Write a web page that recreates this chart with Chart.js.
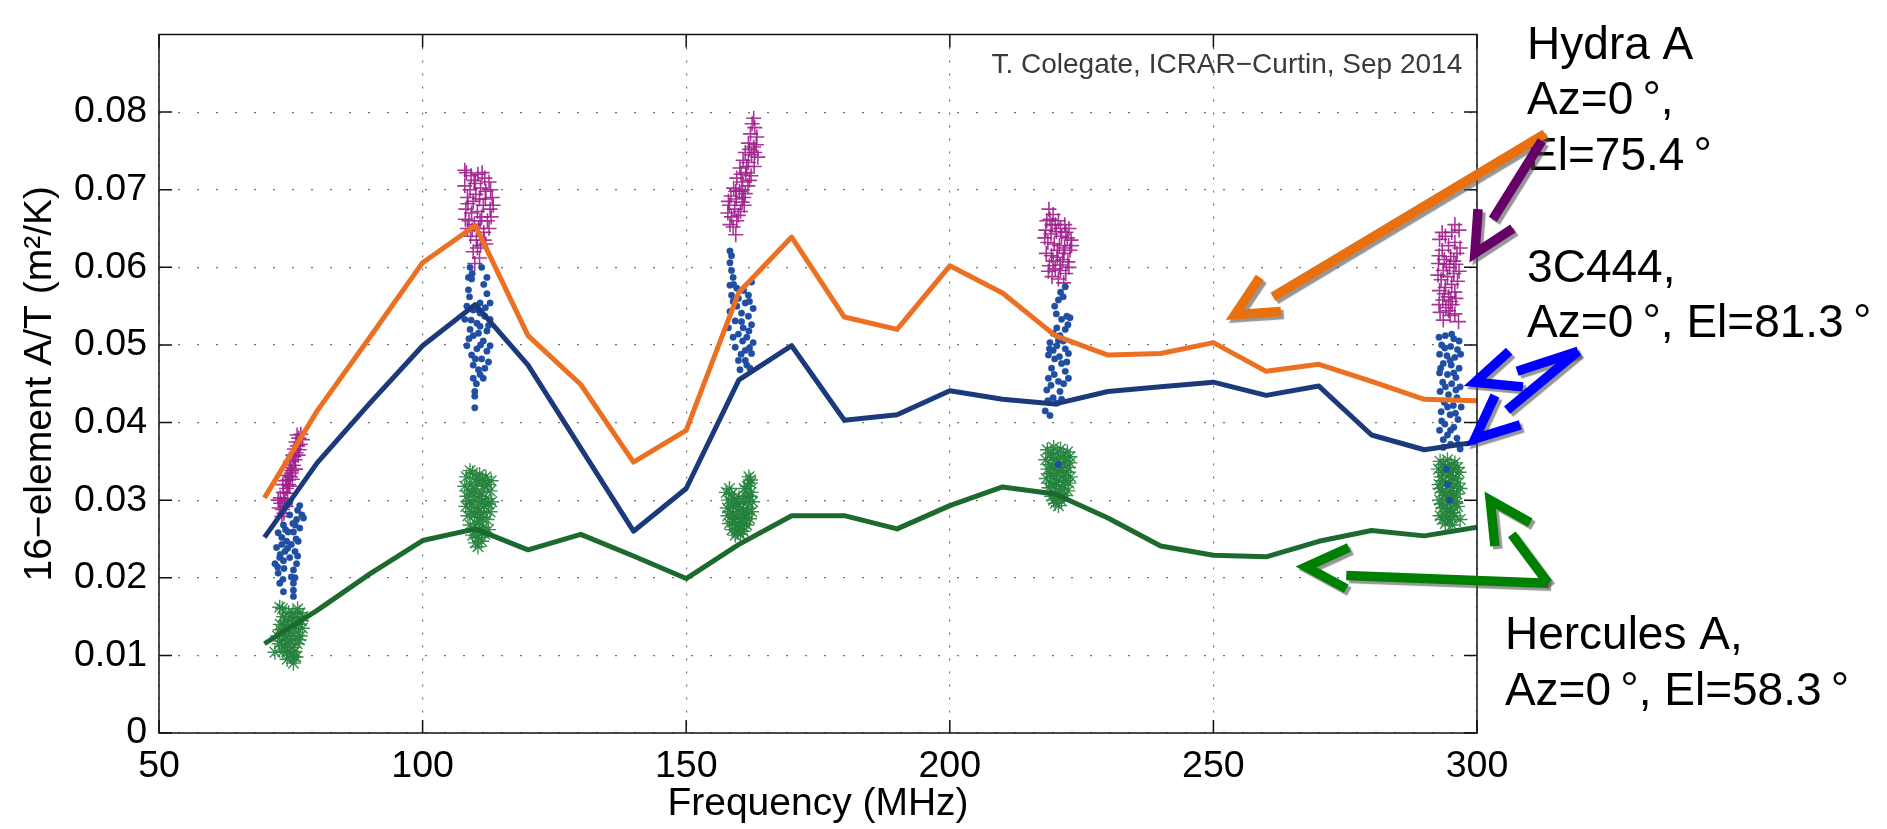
<!DOCTYPE html>
<html lang="en">
<head>
<meta charset="UTF-8">
<title>16-element A/T vs Frequency</title>
<script src="https://cdn.jsdelivr.net/npm/chart.js"></script>
<style>
  html, body { margin: 0; padding: 0; background: #fff; }
  #wrap { width: 1887px; height: 829px; }
</style>
</head>
<body>
<div id="wrap"><canvas id="chart" width="1887" height="829"></canvas></div>
<script>
// model curves, sampled every 10 MHz
const freqs = [70, 80, 90, 100, 110, 120, 130, 140, 150, 160, 170, 180, 190, 200, 210, 220, 230, 240, 250, 260, 270, 280, 290, 300];
const hydraModel = [0.0303, 0.0415, 0.0510, 0.0606, 0.0654, 0.0512, 0.0449, 0.0349, 0.0390, 0.0568, 0.0639, 0.0536,
                    0.0520, 0.0602, 0.0567, 0.0512, 0.0487, 0.0489, 0.0503, 0.0466, 0.0475, 0.0453, 0.0430, 0.0428];
const c444Model = [0.0252, 0.0348, 0.0425, 0.0499, 0.0552, 0.0474, 0.0367, 0.0260, 0.0315, 0.0455, 0.0499, 0.0403,
                   0.0410, 0.0441, 0.0430, 0.0424, 0.0440, 0.0446, 0.0452, 0.0435, 0.0447, 0.0384, 0.0365, 0.0375];
const herculesModel = [0.0115, 0.0158, 0.0205, 0.0248, 0.0263, 0.0236, 0.0256, 0.0228, 0.0199, 0.0243, 0.0280, 0.0280,
                       0.0263, 0.0293, 0.0317, 0.0308, 0.0277, 0.0241, 0.0229, 0.0227, 0.0247, 0.0261, 0.0254, 0.0265];

// measurements [MHz, A/T], five observing bands
const hydraMeas = [
  // ~75 MHz
  [72.8,0.0290],[73.1,0.0296],[73.4,0.0288],[73.0,0.0303],[73.6,0.0310],[73.9,0.0302],[74.2,0.0315],[73.5,0.0320],
  [74.0,0.0325],[74.6,0.0320],[74.3,0.0332],[74.9,0.0330],[75.2,0.0338],[74.7,0.0342],[75.5,0.0345],[75.0,0.0350],
  [75.8,0.0352],[75.4,0.0358],[76.0,0.0361],[75.7,0.0366],[76.3,0.0370],[76.0,0.0375],[76.5,0.0380],[76.2,0.0384],
  [75.3,0.0327],[74.4,0.0309],[73.7,0.0283],[76.8,0.0372],[74.8,0.0318],[75.9,0.0340],[73.3,0.0279],
  [76.9,0.0385],[77.2,0.0378],[76.6,0.0365],[75.1,0.0335],[74.5,0.0326],[73.8,0.0298],[72.6,0.0300],[74.1,0.0292],
  [75.6,0.0356],[76.4,0.0358],
  // ~110 MHz
  [108.3,0.0722],[109.2,0.0718],[110.5,0.0720],[111.8,0.0715],[112.6,0.0710],[108.0,0.0705],[109.0,0.0700],[110.0,0.0708],
  [111.0,0.0702],[112.0,0.0698],[113.2,0.0690],[108.5,0.0690],[109.6,0.0685],[110.8,0.0688],[111.5,0.0680],[112.8,0.0675],
  [108.2,0.0675],[109.3,0.0670],[110.4,0.0672],[111.2,0.0665],[112.3,0.0660],[108.8,0.0660],[109.8,0.0655],[110.6,0.0650],
  [111.6,0.0645],[109.1,0.0640],[110.2,0.0635],[111.0,0.0628],[109.6,0.0620],[110.8,0.0612],[112.0,0.0630],[113.0,0.0665],
  [108.5,0.0650],[108.0,0.0725],[109.8,0.0712],[111.3,0.0722],[112.9,0.0700],[108.6,0.0682],[110.1,0.0694],[111.9,0.0688],
  [113.4,0.0680],[110.9,0.0660],[112.6,0.0650],[109.4,0.0648],[108.1,0.0662],[110.4,0.0625],[111.7,0.0635],[109.9,0.0605],
  // ~160 MHz
  [162.8,0.0792],[163.0,0.0780],[162.2,0.0772],[163.4,0.0768],[161.8,0.0760],[162.8,0.0755],[161.2,0.0748],[162.4,0.0745],
  [163.6,0.0742],[160.8,0.0738],[161.8,0.0735],[162.9,0.0730],[160.2,0.0728],[161.3,0.0722],[162.3,0.0718],[159.6,0.0715],
  [160.7,0.0710],[161.7,0.0705],[159.0,0.0702],[160.1,0.0698],[161.2,0.0695],[158.5,0.0692],[159.5,0.0688],[160.6,0.0684],
  [158.2,0.0680],[159.2,0.0675],[160.3,0.0672],[158.6,0.0665],[159.6,0.0660],[158.9,0.0652],[159.4,0.0642],[161.0,0.0680],
  [157.9,0.0670],[162.5,0.0785],[163.3,0.0758],[162.0,0.0752],[161.5,0.0730],[160.4,0.0720],[162.0,0.0712],[159.4,0.0698],
  [160.9,0.0690],[158.0,0.0685],[159.9,0.0667],[158.3,0.0655],[160.6,0.0700],[163.0,0.0748],
  // ~220 MHz
  [218.8,0.0675],[219.6,0.0668],[218.4,0.0660],[219.4,0.0655],[220.6,0.0660],[221.8,0.0655],[222.6,0.0650],[218.2,0.0648],
  [219.2,0.0643],[220.2,0.0646],[221.2,0.0640],[222.3,0.0638],[218.6,0.0632],[219.8,0.0630],[220.8,0.0628],[221.8,0.0625],
  [222.8,0.0622],[218.3,0.0618],[219.3,0.0615],[220.4,0.0613],[221.4,0.0610],[222.4,0.0607],[218.9,0.0602],[220.0,0.0598],
  [221.0,0.0596],[222.0,0.0592],[219.4,0.0588],[220.6,0.0585],[221.6,0.0580],[223.0,0.0635],[220.0,0.0655],
  [219.0,0.0662],[221.0,0.0650],[222.0,0.0645],[223.1,0.0628],[218.0,0.0638],[220.4,0.0622],[221.6,0.0618],[219.6,0.0608],
  [222.6,0.0600],[220.9,0.0603],[218.7,0.0595],
  // ~295 MHz
  [296.6,0.0648],[295.2,0.0645],[294.0,0.0640],[292.9,0.0636],[295.8,0.0632],[294.6,0.0628],[293.4,0.0622],[296.2,0.0618],
  [295.0,0.0614],[293.8,0.0610],[292.7,0.0605],[296.0,0.0604],[294.8,0.0600],[293.6,0.0596],[295.6,0.0592],[294.4,0.0588],
  [293.2,0.0584],[296.3,0.0582],[295.2,0.0578],[294.0,0.0574],[292.9,0.0570],[295.8,0.0568],[294.6,0.0562],[293.5,0.0558],
  [295.3,0.0552],[294.1,0.0548],[293.0,0.0542],[294.9,0.0538],[296.5,0.0530],[293.6,0.0532],
  [295.8,0.0655],[293.4,0.0645],[296.8,0.0625],[292.8,0.0615],[295.6,0.0608],[294.2,0.0604],[296.6,0.0595],[292.6,0.0590],
  [293.8,0.0566],[296.0,0.0560],[295.0,0.0556],[292.8,0.0552],[294.6,0.0544],[295.8,0.0540]
];
const c444Meas = [
  // ~75 MHz
  [76.7,0.0293],[77.1,0.0281],[76.1,0.0275],[74.8,0.0281],[73.6,0.0268],[72.6,0.0258],[73.3,0.0252],[74.2,0.0247],
  [75.5,0.0259],[76.7,0.0264],[75.1,0.0243],[72.3,0.0239],[73.9,0.0234],[75.8,0.0234],[72.9,0.0226],[74.8,0.0226],
  [72.0,0.0218],[73.6,0.0222],[75.5,0.0210],[72.6,0.0206],[75.1,0.0201],[75.5,0.0193],[72.9,0.0193],[75.5,0.0184],
  [73.6,0.0182],[75.5,0.0176],[76.1,0.0218],[76.4,0.0247],[77.4,0.0277],[74.5,0.0259],[73.3,0.0243],[75.8,0.0268],
  [74.2,0.0293],[74.8,0.0297],[76.3,0.0287],[75.4,0.0270],[74.0,0.0262],[73.0,0.0230],[74.4,0.0238],[76.0,0.0250],
  [73.7,0.0212],[72.5,0.0214],[76.3,0.0228],[73.5,0.0198],[75.8,0.0200],
  // ~110 MHz
  [109.0,0.0600],[111.2,0.0600],[112.2,0.0587],[109.3,0.0585],[108.7,0.0571],[112.2,0.0566],[112.8,0.0554],[108.4,0.0550],
  [110.9,0.0554],[109.6,0.0545],[111.8,0.0537],[112.8,0.0533],[108.0,0.0533],[109.0,0.0520],[110.9,0.0524],[112.2,0.0518],
  [109.6,0.0512],[111.5,0.0505],[112.8,0.0499],[108.4,0.0499],[110.3,0.0495],[109.3,0.0487],[111.2,0.0482],[112.5,0.0478],
  [109.6,0.0474],[110.6,0.0468],[111.5,0.0457],[109.6,0.0457],[109.9,0.0440],[109.9,0.0434],[109.9,0.0419],[108.7,0.0587],
  [110.9,0.0541],[110.3,0.0528],[109.4,0.0592],[111.6,0.0578],[108.9,0.0562],[111.9,0.0548],[110.2,0.0546],[109.2,0.0532],
  [112.5,0.0525],[110.6,0.0515],[108.8,0.0508],[111.0,0.0500],[112.2,0.0492],[110.0,0.0482],[111.8,0.0470],[110.9,0.0462],
  [110.2,0.0450],
  // ~160 MHz
  [158.3,0.0621],[158.3,0.0606],[158.6,0.0596],[158.9,0.0587],[158.3,0.0577],[159.6,0.0573],[162.4,0.0581],[158.6,0.0564],
  [159.9,0.0560],[161.2,0.0554],[162.7,0.0547],[158.3,0.0543],[160.5,0.0541],[161.8,0.0537],[159.3,0.0531],[162.4,0.0526],
  [158.0,0.0522],[160.8,0.0522],[159.9,0.0514],[161.5,0.0510],[162.7,0.0503],[159.3,0.0497],[161.2,0.0493],[162.4,0.0489],
  [159.9,0.0480],[161.5,0.0474],[160.2,0.0468],[162.1,0.0470],[158.9,0.0556],[161.8,0.0564],
  [158.6,0.0615],[159.0,0.0578],[160.9,0.0570],[159.6,0.0550],[162.0,0.0556],[160.5,0.0530],[161.9,0.0518],[158.9,0.0510],
  [160.7,0.0505],[162.0,0.0496],[160.4,0.0488],[161.2,0.0480],
  // ~220 MHz
  [221.9,0.0575],[221.5,0.0562],[220.6,0.0558],[219.9,0.0550],[222.2,0.0537],[222.8,0.0535],[221.2,0.0533],[220.3,0.0522],
  [221.9,0.0520],[220.9,0.0512],[219.0,0.0503],[220.3,0.0499],[221.9,0.0495],[222.5,0.0489],[218.7,0.0487],[219.9,0.0482],
  [221.2,0.0476],[219.3,0.0470],[221.9,0.0466],[218.7,0.0457],[220.6,0.0453],[218.4,0.0442],[220.9,0.0440],[219.6,0.0432],
  [221.2,0.0430],[218.1,0.0415],[219.0,0.0409],[222.5,0.0457],[220.6,0.0506],[219.6,0.0493],[220.6,0.0346],
  [221.0,0.0568],[220.2,0.0540],[222.4,0.0526],[219.6,0.0515],[221.5,0.0505],[218.9,0.0495],[220.8,0.0485],[222.2,0.0478],
  [219.8,0.0462],[221.6,0.0450],[219.2,0.0448],[220.3,0.0425],[218.6,0.0428],
  // ~295 MHz
  [292.8,0.0510],[294.0,0.0512],[295.6,0.0508],[296.6,0.0505],[293.3,0.0500],[295.0,0.0498],[296.3,0.0494],[292.9,0.0488],
  [294.3,0.0486],[295.8,0.0484],[293.6,0.0476],[295.1,0.0474],[296.6,0.0470],[292.9,0.0464],[294.4,0.0462],[296.0,0.0458],
  [293.5,0.0452],[295.2,0.0450],[296.8,0.0446],[293.0,0.0440],[294.6,0.0436],[296.2,0.0432],[293.8,0.0426],[295.5,0.0422],
  [297.0,0.0420],[293.2,0.0414],[294.9,0.0410],[296.4,0.0404],[293.9,0.0398],[295.6,0.0394],[292.9,0.0390],[294.4,0.0384],
  [296.2,0.0380],[295.0,0.0372],[293.6,0.0368],[296.8,0.0366],[294.2,0.0340],[294.4,0.0320],[294.8,0.0300],
  [295.2,0.0514],[293.9,0.0496],[296.9,0.0488],[294.9,0.0480],[293.1,0.0470],[295.6,0.0464],[294.0,0.0446],[296.0,0.0442],
  [294.4,0.0420],[295.9,0.0412],[293.3,0.0402],[295.0,0.0390],[293.6,0.0378],[296.4,0.0372]
];
const herculesMeas = [
  // ~75 MHz
  [72.9,0.0162],[72.0,0.0104],[75.5,0.0090],[73.0,0.0140],[73.5,0.0130],[74.0,0.0125],[74.5,0.0135],[75.0,0.0128],
  [75.5,0.0120],[76.0,0.0130],[76.5,0.0140],[77.0,0.0145],[72.5,0.0125],[73.2,0.0118],[73.8,0.0112],[74.4,0.0115],
  [75.2,0.0110],[76.2,0.0115],[76.8,0.0125],[75.8,0.0105],[74.9,0.0100],[74.0,0.0145],[75.0,0.0148],[76.0,0.0150],
  [76.7,0.0155],[73.6,0.0150],[74.6,0.0155],[75.7,0.0140],[73.0,0.0133],[74.2,0.0105],[75.6,0.0098],[77.2,0.0135],
  [73.4,0.0160],[75.4,0.0155],[76.3,0.0160],[77.3,0.0150],[72.8,0.0115],[74.7,0.0120],[76.6,0.0120],[73.5,0.0105],
  [76.0,0.0098],[74.3,0.0095],[75.3,0.0140],[73.9,0.0138],
  // ~110 MHz
  [108.3,0.0330],[109.5,0.0335],[110.8,0.0333],[112.0,0.0330],[113.0,0.0325],[108.0,0.0318],[109.2,0.0320],[110.4,0.0322],
  [111.6,0.0318],[112.8,0.0312],[108.4,0.0305],[109.6,0.0308],[110.8,0.0305],[112.0,0.0302],[113.1,0.0298],[108.2,0.0292],
  [109.3,0.0295],[110.5,0.0290],[111.7,0.0292],[112.8,0.0285],[108.6,0.0280],[109.8,0.0282],[111.0,0.0278],[112.2,0.0275],
  [109.0,0.0268],[110.2,0.0270],[111.4,0.0265],[112.5,0.0262],[109.5,0.0255],[110.6,0.0252],[111.8,0.0256],[110.0,0.0245],
  [111.2,0.0247],[109.0,0.0338],[110.2,0.0328],[111.4,0.0326],[112.4,0.0320],[108.8,0.0312],[110.0,0.0314],[111.2,0.0310],
  [108.9,0.0298],[110.1,0.0300],[111.3,0.0298],[112.5,0.0295],[109.2,0.0285],[110.4,0.0284],[111.6,0.0284],[110.8,0.0272],
  [109.8,0.0260],[111.3,0.0258],[110.5,0.0240],
  // ~160 MHz
  [158.6,0.0308],[158.0,0.0300],[159.2,0.0302],[157.8,0.0290],[158.8,0.0292],[159.8,0.0295],[160.8,0.0298],[161.6,0.0318],
  [162.2,0.0322],[161.3,0.0305],[162.3,0.0310],[162.6,0.0298],[157.9,0.0280],[158.9,0.0282],[159.9,0.0285],[160.9,0.0288],
  [161.8,0.0290],[162.4,0.0285],[158.2,0.0270],[159.2,0.0272],[160.2,0.0275],[161.2,0.0278],[162.0,0.0276],[158.7,0.0262],
  [159.7,0.0263],[160.7,0.0266],[161.5,0.0268],[159.3,0.0255],[160.3,0.0256],[161.9,0.0330],[157.6,0.0310],[160.0,0.0303],
  [158.2,0.0315],[159.0,0.0295],[160.3,0.0290],[161.0,0.0315],[162.0,0.0305],[161.7,0.0298],[158.4,0.0285],[159.4,0.0278],
  [160.6,0.0282],[161.6,0.0282],[158.8,0.0272],[160.0,0.0268],[161.0,0.0270],[159.8,0.0258],[160.8,0.0260],[162.2,0.0326],
  // ~220 MHz
  [218.5,0.0365],[219.7,0.0368],[221.0,0.0366],[222.3,0.0362],[218.2,0.0352],[219.4,0.0355],[220.6,0.0353],[221.8,0.0350],
  [222.8,0.0348],[218.6,0.0340],[219.8,0.0342],[221.0,0.0338],[222.2,0.0336],[218.3,0.0328],[219.5,0.0330],[220.7,0.0326],
  [221.9,0.0325],[222.9,0.0330],[218.8,0.0316],[220.0,0.0318],[221.2,0.0314],[222.4,0.0312],[219.3,0.0305],[220.5,0.0303],
  [221.7,0.0306],[220.0,0.0296],[219.1,0.0360],[220.4,0.0361],[221.6,0.0358],[222.8,0.0356],[219.0,0.0346],[220.2,0.0347],
  [221.4,0.0345],[222.5,0.0342],[219.1,0.0334],[220.3,0.0335],[221.5,0.0332],[219.0,0.0322],[220.2,0.0323],[221.5,0.0320],
  [222.6,0.0322],[219.8,0.0310],[221.0,0.0308],[219.7,0.0300],[221.2,0.0299],[220.6,0.0293],
  // ~295 MHz
  [293.0,0.0350],[294.4,0.0352],[295.8,0.0348],[292.7,0.0340],[294.0,0.0342],[295.4,0.0340],[296.6,0.0336],[293.2,0.0330],
  [294.6,0.0332],[296.0,0.0328],[292.8,0.0320],[294.2,0.0322],[295.6,0.0318],[296.8,0.0315],[293.4,0.0310],[294.8,0.0312],
  [296.2,0.0308],[292.9,0.0300],[294.3,0.0302],[295.7,0.0298],[293.5,0.0290],[294.9,0.0288],[296.3,0.0292],[293.0,0.0280],
  [294.4,0.0278],[295.8,0.0280],[296.8,0.0275],[294.0,0.0270],[295.3,0.0268],
  [293.6,0.0346],[295.1,0.0345],[296.3,0.0342],[293.3,0.0336],[294.9,0.0336],[295.5,0.0330],[293.5,0.0325],[295.0,0.0325],
  [296.4,0.0322],[293.0,0.0315],[295.2,0.0312],[294.0,0.0306],[295.5,0.0304],[293.2,0.0295],[294.4,0.0295],[296.0,0.0296],
  [294.2,0.0285],[295.4,0.0284],[293.4,0.0275],[294.8,0.0273]
];

const xTicks = [50, 100, 150, 200, 250, 300];
const yTicks = [0, 0.01, 0.02, 0.03, 0.04, 0.05, 0.06, 0.07, 0.08];
const yTickLabels = ['0', '0.01', '0.02', '0.03', '0.04', '0.05', '0.06', '0.07', '0.08'];

// hand drawn call-outs, in axis units
const notes = [
  { text: 'Hydra A', x: 309.5, y: 0.0869 },
  { text: 'Az=0\u2009°,', x: 309.5, y: 0.0797 },
  { text: 'El=75.4\u2009°', x: 309.5, y: 0.0725 },
  { text: '3C444,', x: 309.5, y: 0.0581 },
  { text: 'Az=0\u2009°, El=81.3\u2009°', x: 309.5, y: 0.0510 },
  { text: 'Hercules A,', x: 305.3, y: 0.0108 },
  { text: 'Az=0\u2009°, El=58.3\u2009°', x: 305.3, y: 0.00365 }
];
const arrows = [
  { color: '#e8700e', shaft: [[312.9, 0.0772], [261.3, 0.0562]], head: [[258.8, 0.0587], [254.1, 0.0539], [262.8, 0.0543]] },
  { color: '#660066', shaft: [[312.3, 0.0763], [303.0, 0.0662]], head: [[300.2, 0.0675], [299.6, 0.0618], [306.8, 0.0650]] },
  { color: '#0000ff', shaft: [[319.2, 0.0492], [307.6, 0.0466]], head: [[306.1, 0.0492], [299.6, 0.0452], [308.7, 0.0446]] },
  { color: '#0000ff', shaft: [[319.2, 0.0492], [305.7, 0.0416]], head: [[303.4, 0.0435], [299.6, 0.0379], [308.2, 0.0397]] },
  { color: '#008000', shaft: [[313.5, 0.0193], [275.2, 0.0203]], head: [[275.7, 0.0239], [267.6, 0.0214], [275.2, 0.0186]] },
  { color: '#008000', shaft: [[313.5, 0.0193], [306.6, 0.0256]], head: [[303.4, 0.0241], [302.5, 0.0300], [310.1, 0.0271]] }
];

const FONT = '"Liberation Sans", Arial, Helvetica, sans-serif';
Chart.defaults.font.family = FONT;
Chart.defaults.color = '#000';

const toXY = pts => pts.map(p => ({ x: p[0], y: p[1] }));
const curve = vals => freqs.map((f, i) => ({ x: f, y: vals[i] }));

// box with inward ticks, credit line, call-outs
const decorations = {
  id: 'decorations',
  afterDraw(chart) {
    const { ctx, chartArea: a, scales: { x, y } } = chart;
    ctx.save();
    ctx.strokeStyle = '#111';
    ctx.lineWidth = 1.5;
    ctx.strokeRect(a.left, a.top, a.right - a.left, a.bottom - a.top);
    ctx.beginPath();
    xTicks.forEach(v => {
      const p = x.getPixelForValue(v);
      ctx.moveTo(p, a.bottom); ctx.lineTo(p, a.bottom - 13);
      ctx.moveTo(p, a.top); ctx.lineTo(p, a.top + 13);
    });
    yTicks.forEach(v => {
      const p = y.getPixelForValue(v);
      ctx.moveTo(a.left, p); ctx.lineTo(a.left + 13, p);
      ctx.moveTo(a.right, p); ctx.lineTo(a.right - 13, p);
    });
    ctx.stroke();

    ctx.fillStyle = '#3a3a3a';
    ctx.font = '28px ' + FONT;
    ctx.textAlign = 'right';
    ctx.textBaseline = 'alphabetic';
    ctx.fillText('T. Colegate, ICRAR\u2212Curtin, Sep 2014', x.getPixelForValue(297.2), y.getPixelForValue(0.0851));

    ctx.fillStyle = '#000';
    ctx.font = '46px ' + FONT;
    ctx.textAlign = 'left';
    notes.forEach(n => ctx.fillText(n.text, x.getPixelForValue(n.x), y.getPixelForValue(n.y)));

    ctx.lineWidth = 9.5;
    ctx.lineCap = 'butt';
    ctx.lineJoin = 'miter';
    ctx.shadowColor = 'rgba(80,80,80,0.6)';
    ctx.shadowOffsetX = 3;
    ctx.shadowOffsetY = 3;
    ctx.shadowBlur = 1;
    const px = p => [x.getPixelForValue(p[0]), y.getPixelForValue(p[1])];
    arrows.forEach(ar => {
      ctx.strokeStyle = ar.color;
      [ar.shaft, ar.head].forEach(seg => {
        ctx.beginPath();
        seg.forEach((p, i) => {
          const [u, v] = px(p);
          if (i === 0) ctx.moveTo(u, v); else ctx.lineTo(u, v);
        });
        ctx.stroke();
      });
    });
    ctx.restore();
  }
};

new Chart(document.getElementById('chart'), {
  type: 'scatter',
  data: {
    datasets: [
      { type: 'line', data: curve(hydraModel), borderColor: '#ec7022', borderWidth: 5, pointRadius: 0, fill: false, order: 0, borderJoinStyle: 'round' },
      { type: 'line', data: curve(c444Model), borderColor: '#1b3a7c', borderWidth: 5, pointRadius: 0, fill: false, order: 0, borderJoinStyle: 'round' },
      { type: 'line', data: curve(herculesModel), borderColor: '#1d6a2e', borderWidth: 5, pointRadius: 0, fill: false, order: 0, borderJoinStyle: 'round' },
      { data: toXY(c444Meas), pointStyle: 'circle', pointRadius: 3.2, backgroundColor: '#1f4ea3', borderColor: '#1f4ea3', borderWidth: 0.5, order: 1 },
      { data: toXY(hydraMeas), pointStyle: 'cross', pointRadius: 7.5, borderColor: 'rgba(158,31,140,0.9)', borderWidth: 1.6, order: 2 },
      { data: toXY(herculesMeas), pointStyle: 'star', pointRadius: 7.5, borderColor: 'rgba(36,130,60,0.9)', borderWidth: 1.4, order: 3 }
    ]
  },
  options: {
    responsive: false,
    devicePixelRatio: 1,
    animation: false,
    layout: { padding: { left: 0, top: 18, right: 410, bottom: 0 } },
    plugins: { legend: { display: false }, tooltip: { enabled: false } },
    scales: {
      x: {
        type: 'linear', min: 50, max: 300,
        afterBuildTicks: s => { s.ticks = xTicks.map(v => ({ value: v })); },
        afterFit: s => { s.height = 96; },
        ticks: { font: { size: 37.5 }, padding: 11, maxRotation: 0, callback: v => String(v) },
        grid: { color: 'rgba(0,0,0,0.55)', lineWidth: 1.2, drawTicks: false },
        border: { display: false, dash: [2, 11] },
        title: { display: true, text: 'Frequency (MHz)', font: { size: 39 }, padding: { top: 0, bottom: 1 } }
      },
      y: {
        type: 'linear', min: 0, max: 0.09,
        afterBuildTicks: s => { s.ticks = yTicks.map(v => ({ value: v })); },
        afterFit: s => { s.width = 159; },
        ticks: { font: { size: 37.5 }, padding: 12, callback: (v, i) => yTickLabels[i] },
        grid: { color: 'rgba(0,0,0,0.55)', lineWidth: 1.2, drawTicks: false },
        border: { display: false, dash: [2, 17] },
        title: { display: true, text: '16\u2212element A/T (m²/K)', font: { size: 39 }, padding: { top: 17, bottom: 0 } }
      }
    }
  },
  plugins: [decorations]
});
</script>
</body>
</html>
